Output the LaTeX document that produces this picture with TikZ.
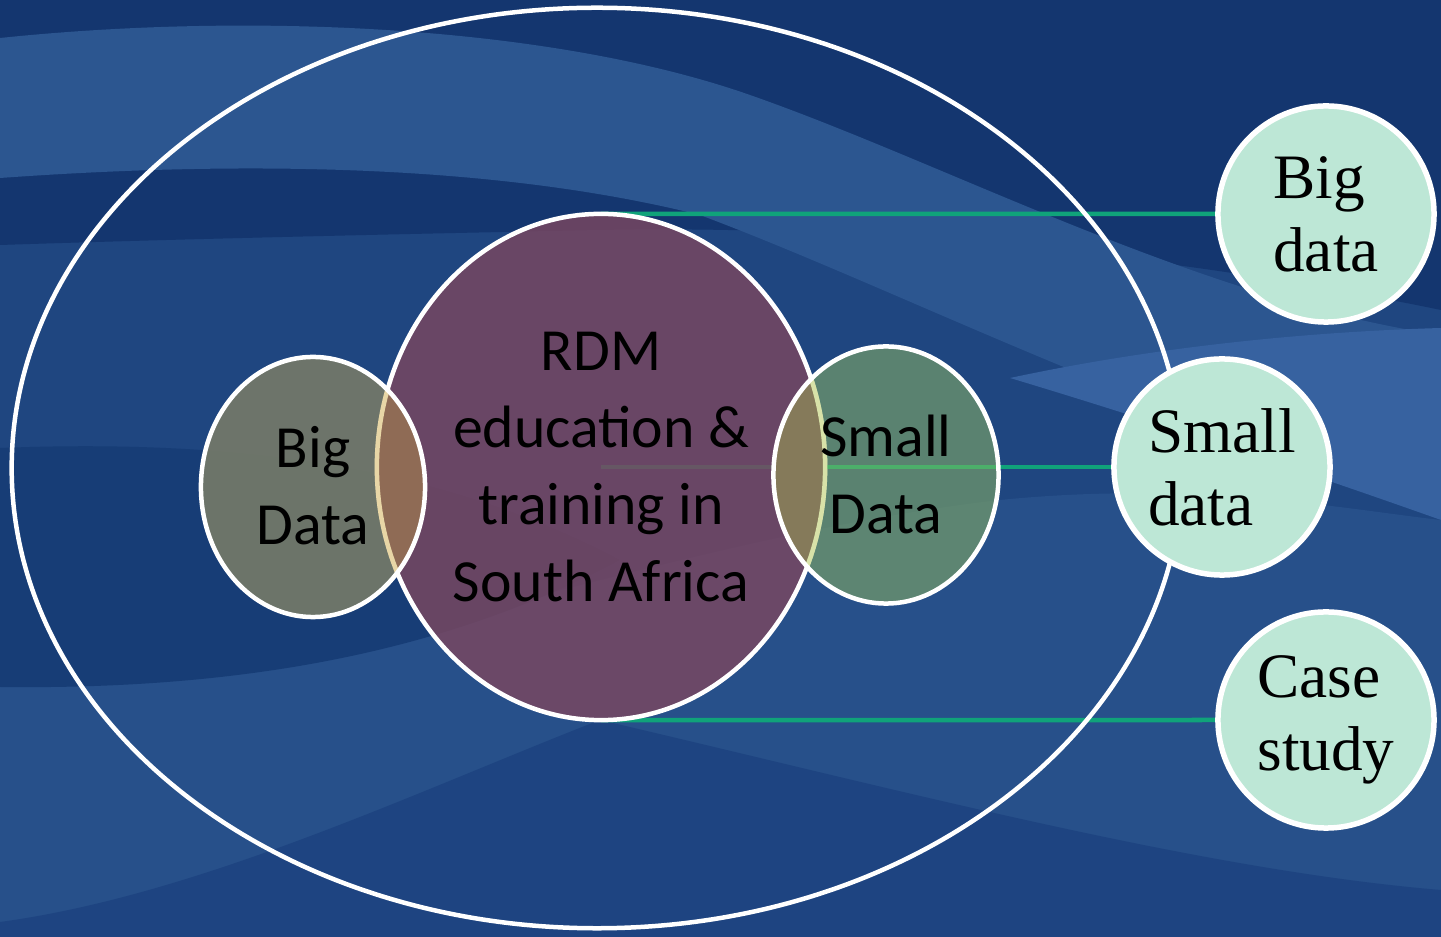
\documentclass[tikz,border=0pt]{standalone}
\usepackage{fontspec}
\newfontfamily\calib{Carlito}
\newfontfamily\tnr{Liberation Serif}
\usetikzlibrary{shapes.geometric}
\definecolor{bgbase}{HTML}{1F4680}
\definecolor{bgdark}{HTML}{14366F}
\definecolor{bglight}{HTML}{2C5690}
\definecolor{bglighter}{HTML}{3762A0}
\definecolor{bgdarkmid}{HTML}{173D76}
\definecolor{bglow}{HTML}{27508A}
\definecolor{bgv}{HTML}{1E4481}
\definecolor{rdmfill}{HTML}{7A4760}
\definecolor{bdfill}{HTML}{767A68}
\definecolor{sdfill}{HTML}{729A6A}
\definecolor{lensL}{HTML}{8F6B55}
\definecolor{lensLedge}{HTML}{E8D6A6}
\definecolor{lensR}{HTML}{857A5A}
\definecolor{lensRedge}{HTML}{D8E2A8}
\definecolor{mint}{HTML}{BDE7D6}
\definecolor{conncol}{HTML}{10A37A}
\definecolor{connlight}{HTML}{4CAF6A}
\pgfdeclarelayer{back}
\pgfsetlayers{back,main}
\tikzset{
  vennshape/.style={ellipse, inner sep=0pt, outer sep=0pt},
  vennedge/.style={draw=white, line width=0.045cm},
  vtext/.style={align=center, text=black, inner sep=0pt,
    font={\calib\fontsize{17pt}{21.9pt}\selectfont}},
  rcirc/.style={circle, draw=white, line width=0.055cm, fill=mint,
    minimum size=2.16cm, inner sep=0pt, outer sep=0pt, align=left,
    text=black, font={\tnr\fontsize{18pt}{20.8pt}\selectfont}},
  conn/.style={draw=conncol, line width=0.045cm},
}
\begin{document}
\begin{tikzpicture}[x=0.01cm,y=-0.01cm]
\useasboundingbox (0,0) rectangle (1441,937);
\begin{pgfonlayer}{back}
% background
\fill[bgbase] (0,0) rectangle (1441,937);
\fill[bgdark] (0,0) -- (1441,0) -- (1441,310) .. controls (1150,250) and (850,225) .. (600,230) .. controls (350,235) and (150,240) .. (0,245) -- cycle;
\fill[bglight] (0,38) .. controls (250,12) and (550,25) .. (750,95) .. controls (950,165) and (1200,300) .. (1441,335) -- (1441,500) .. controls (1150,420) and (900,290) .. (700,215) .. controls (500,165) and (250,160) .. (0,178) -- cycle;
\fill[bglighter] (1010,378) .. controls (1150,348) and (1300,332) .. (1441,328) -- (1441,520) .. controls (1300,470) and (1150,420) .. (1010,378) -- cycle;
\fill[bglow] (0,687) .. controls (300,692) and (650,540) .. (1000,500) .. controls (1200,480) and (1350,510) .. (1441,520) -- (1441,937) -- (0,937) -- cycle;
\fill[bgdarkmid] (0,448) .. controls (250,438) and (450,470) .. (620,560) .. controls (450,650) and (250,690) .. (0,687) -- cycle;
\fill[bgv] (0,937) -- (0,922) .. controls (200,895) and (420,790) .. (600,720) .. controls (900,790) and (1200,870) .. (1441,890) -- (1441,937) -- cycle;
\end{pgfonlayer}

% outer ellipse
\node[ellipse, draw=white, line width=0.045cm, minimum width=11.70cm, minimum height=9.20cm, inner sep=0pt] (outer) at (597,468) {};

% right circles
\node[rcirc] (r1) at (1326,214) {Big\\data};
\node[rcirc] (r2) at (1222,467) {Small\\data};
\node[rcirc] (r3) at (1326,720) {Case\\study};

% Venn shapes
\node[vennshape, fill=rdmfill, fill opacity=0.82, vennedge, minimum width=4.48cm, minimum height=5.06cm] (rdm) at (601,467) {};
\node[vennshape, fill=bdfill, fill opacity=0.9, minimum width=2.24cm, minimum height=2.60cm] (bd) at (313,487) {};
\node[vennshape, fill=sdfill, fill opacity=0.72, minimum width=2.25cm, minimum height=2.57cm] (sd) at (886,475) {};

% connectors (behind the shapes)
\begin{pgfonlayer}{back}
\draw[conn] (rdm.north) -- (r1.west);
\draw[conn] (rdm.center) -- (r2.west);
\draw[conn] (rdm.south) -- (r3.west);
\end{pgfonlayer}
% the middle connector shows brightly through the Small Data circle
\begin{scope}
\clip (sd.center) ellipse [x radius=1.125cm, y radius=1.285cm];
\draw[conn, draw=connlight] (rdm.center) -- (r2.west);
\end{scope}

% lenses
\begin{scope}
\clip (bd.center) ellipse [x radius=1.12cm, y radius=1.30cm];
\fill[lensL] (rdm.center) ellipse [x radius=2.24cm, y radius=2.53cm];
\draw[lensLedge, line width=0.045cm] (rdm.center) ellipse [x radius=2.24cm, y radius=2.53cm];
\end{scope}
\begin{scope}
\clip (sd.center) ellipse [x radius=1.125cm, y radius=1.285cm];
\fill[lensR] (rdm.center) ellipse [x radius=2.24cm, y radius=2.53cm];
\draw[lensRedge, line width=0.045cm] (rdm.center) ellipse [x radius=2.24cm, y radius=2.53cm];
\end{scope}
\draw[vennedge] (bd.center) ellipse [x radius=1.12cm, y radius=1.30cm];
\draw[vennedge] (sd.center) ellipse [x radius=1.125cm, y radius=1.285cm];

% texts
\node[vtext] (rdmtext) at (601,467) {RDM\\education \&\\training in\\South Africa};
\node[vtext] (bdtext) at (313,486) {Big\\Data};
\node[vtext] (sdtext) at (886,474) {Small\\Data};
\end{tikzpicture}
\end{document}
